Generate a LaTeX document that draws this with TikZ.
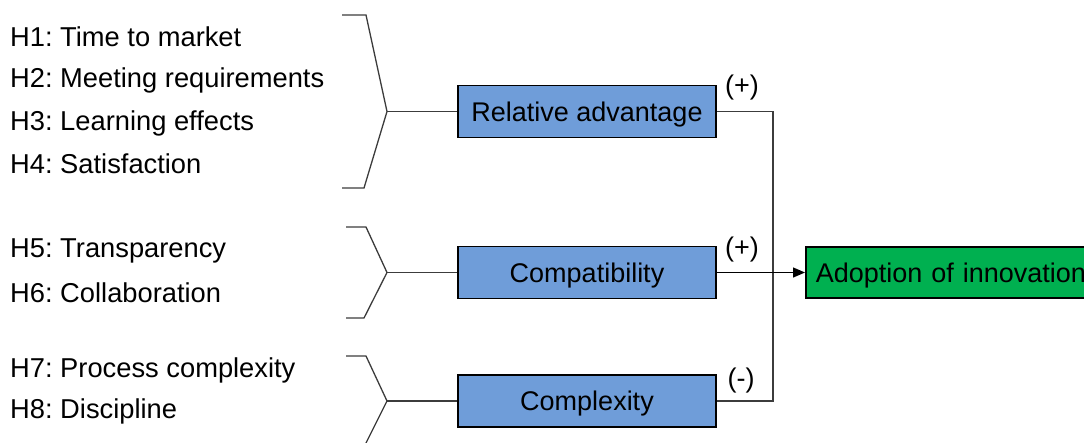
\documentclass[tikz,border=0pt]{standalone}
\usepackage{fontspec}
\setmainfont{Liberation Sans}
\usetikzlibrary{arrows.meta}
\definecolor{boxblue}{RGB}{111,157,217}
\definecolor{boxgreen}{RGB}{0,176,80}
\definecolor{linegray}{RGB}{60,60,60}
\frenchspacing
\begin{document}
\begin{tikzpicture}[x=1pt,y=-1pt,
  every node/.style={font=\fontsize{27}{32}\selectfont},
  hyp/.style={anchor=base west, inner sep=0pt, font=\fontsize{27.3}{32}\selectfont},
  factor/.style={draw=black, line width=1.6pt, fill=boxblue, minimum width=258pt, minimum height=52pt, text height=19.5pt, text depth=0pt, inner sep=0pt},
  outcome/.style={draw=black, line width=1.6pt, fill=boxgreen, minimum height=51pt, text height=19.5pt, text depth=0pt, text width=300pt, align=left, inner xsep=10pt, inner ysep=0pt, anchor=west},
  brace/.style={draw=linegray, line width=1.3pt},
  conn/.style={draw=linegray, line width=1.3pt},
  sign/.style={inner sep=0pt}
]
\useasboundingbox (0,0) rectangle (1084,442);
% hypotheses
\node[hyp] (h1) at (10,46.5) {H1: Time to market};
\node[hyp] (h2) at (10,87.5) {H2: Meeting requirements};
\node[hyp] (h3) at (10,130.5) {H3: Learning effects};
\node[hyp] (h4) at (10,173.5) {H4: Satisfaction};
\node[hyp] (h5) at (10,257.5) {H5: Transparency};
\node[hyp] (h6) at (10,302.5) {H6: Collaboration};
\node[hyp] (h7) at (10,377.5) {H7: Process complexity};
\node[hyp] (h8) at (10,418.5) {H8: Discipline};
% boxes
\node[factor] (ra) at (587,111.5) {Relative advantage};
\node[factor] (cp) at (587,272.5) {Compatibility};
\node[factor] (cx) at (587,401) {Complexity};
\node[outcome] (ad) at (805,272.5) {Adoption of innovation};
% braces
\coordinate (b1) at (387,111.5);
\coordinate (b2) at (387,272.5);
\coordinate (b3) at (387,401);
\draw[brace] (342,15) -- (366,15) -- (b1) -- (364,188) -- (342,188);
\draw[brace] (346,227) -- (366,227) -- (b2) -- (364,318) -- (346,318);
\draw[brace] (346,356) -- (366,356) -- (b3) -- (364,447) -- (346,447);
\draw[conn] (b1) -- (ra.west);
\draw[conn] (b2) -- (cp.west);
\draw[conn] (b3) -- (cx.west);
% junction
\coordinate (j) at (773,272.5);
\draw[conn] (ra.east) -| (j);
\draw[conn] (cx.east) -| (j);
\draw[conn, -{Triangle[length=12pt,width=10pt]}, draw=black] (cp.east) -- (ad.west);
% signs
\node[sign] (s1) at (742,88) {(+)};
\node[sign] (s2) at (742,250) {(+)};
\node[sign] (s3) at (741,381) {(-)};
\end{tikzpicture}
\end{document}
